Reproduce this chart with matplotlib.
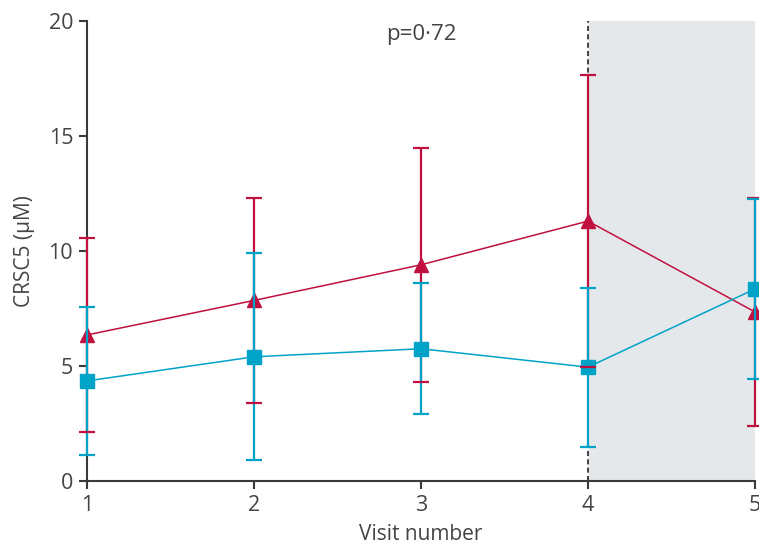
import numpy as np
import matplotlib.pyplot as plt

plt.rcParams["font.family"] = ["Open Sans", "DejaVu Sans"]

visits = [1, 2, 3, 4, 5]
red_mean = [6.35, 7.85, 9.4, 11.3, 7.35]
red_err = [4.2, 4.45, 5.1, 6.35, 4.95]
blue_mean = [4.35, 5.4, 5.75, 4.95, 8.35]
blue_err = [3.2, 4.5, 2.85, 3.45, 3.9]
yticks = [0, 5, 10, 15, 20]

red = "#C0103F"
blue = "#00A3C8"
axis_col = "#3a3a3a"
text_col = "#444444"

fig = plt.figure(figsize=(7.59, 5.47), dpi=100)
ax = fig.add_axes([87 / 759, 1 - 481 / 547, (755 - 87) / 759, (481 - 21) / 547])

# follow-up period shading and visit 4 marker line
ax.axvspan(4, 5, color="#E5E8EB", zorder=0, lw=0)
ax.axvline(4, color="#222222", linestyle=(0, (3, 2)), linewidth=1.2, zorder=1)

r = ax.errorbar(visits, red_mean, yerr=red_err, color=red, marker="^",
                markersize=10, linewidth=1.1, elinewidth=1.6, capsize=6,
                capthick=1.6, zorder=3)
b = ax.errorbar(visits, blue_mean, yerr=blue_err, color=blue, marker="s",
                markersize=10, linewidth=1.1, elinewidth=1.6, capsize=6,
                capthick=1.6, zorder=4)

# markers not clipped at the left axis, caps kept on top
for art in [r[0], b[0]]:
    art.set_clip_on(False)
for cap in list(r[1]) + list(b[1]):
    cap.set_zorder(5)
    cap.set_clip_on(False)
for col in list(r[2]) + list(b[2]):
    col.set_clip_on(False)

ax.set_xlim(1, 5)
ax.set_ylim(0, 20)
ax.set_xticks(visits)
ax.set_yticks(yticks)

for side in ["top", "right"]:
    ax.spines[side].set_visible(False)
for side in ["left", "bottom"]:
    ax.spines[side].set_color(axis_col)
    ax.spines[side].set_linewidth(1.5)

ax.tick_params(direction="out", length=6, width=1.5, color=axis_col,
               labelsize=15.5, labelcolor=text_col, pad=4)

ax.set_xlabel("Visit number", fontsize=15, color=text_col, labelpad=6)
ax.set_ylabel("CRSC5 (μM)", fontsize=15, color=text_col, labelpad=10)

ax.text(3, 19.4, "p=0·72", ha="center", va="center", fontsize=16, color=text_col)

fig.savefig("out.png", dpi=100)
